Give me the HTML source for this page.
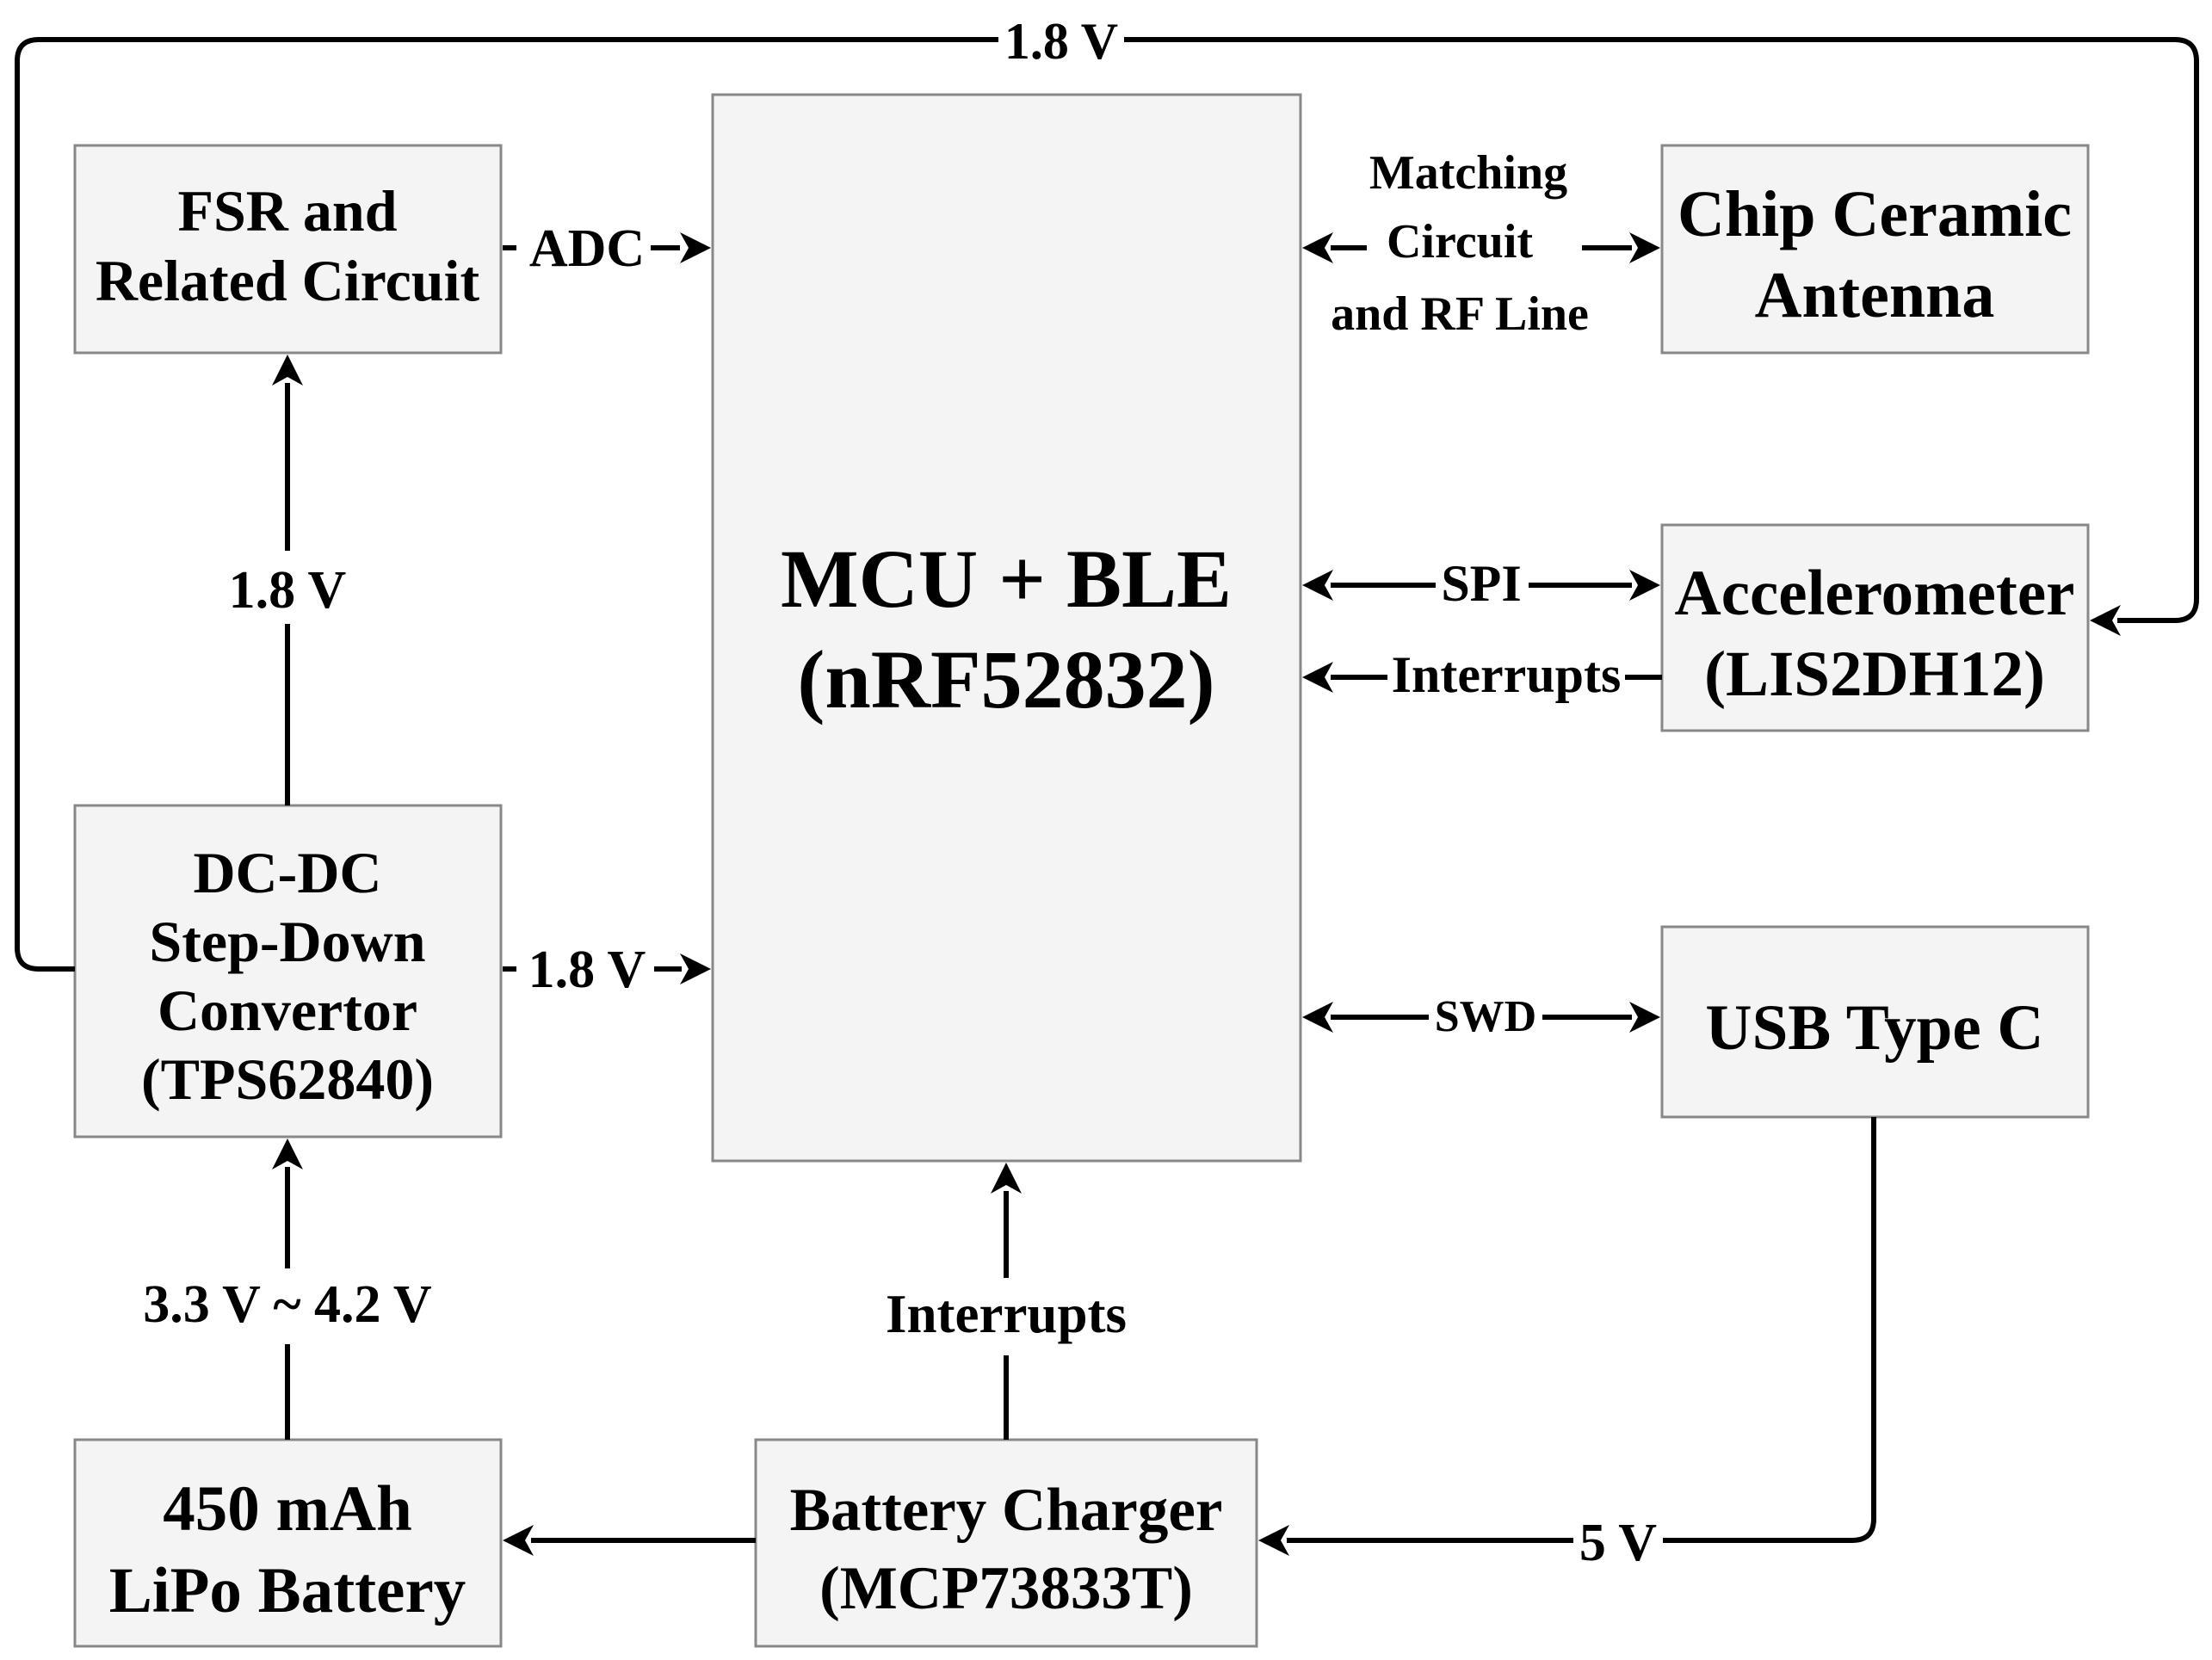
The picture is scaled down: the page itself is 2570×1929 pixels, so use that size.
<!DOCTYPE html>
<html><head><meta charset="utf-8"><style>html,body{margin:0;padding:0;background:#fff}svg{display:block}</style></head>
<body>
<svg width="2570" height="1929" viewBox="0 0 2570 1929" xmlns="http://www.w3.org/2000/svg" font-family="'Liberation Serif', serif" font-weight="bold">
<g fill="#f4f4f4" stroke="#888" stroke-width="3">
<rect x="87" y="169" width="495" height="241"/>
<rect x="828" y="110" width="683" height="1239"/>
<rect x="1931" y="169" width="495" height="241"/>
<rect x="1931" y="610" width="495" height="239"/>
<rect x="1931" y="1077" width="495" height="221"/>
<rect x="87" y="936" width="495" height="385"/>
<rect x="87" y="1673" width="495" height="240"/>
<rect x="878" y="1673" width="582" height="240"/>
</g>
<g fill="none" stroke="#000" stroke-width="6">
<path d="M87 1126 H45 Q20 1126 20 1101 V71 Q20 46 45 46 H1160"/>
<path d="M1306 46 H2527 Q2552 46 2552 71 V696 Q2552 721 2527 721 H2460"/>
<path d="M584 288 H600"/><path d="M756 288 H790"/>
<path d="M334 936 V725"/><path d="M334 640 V445"/>
<path d="M584 1126 H600"/><path d="M760 1126 H792"/>
<path d="M334 1673 V1562"/><path d="M334 1474 V1356"/>
<path d="M878 1790 H617"/>
<path d="M1169 1673 V1575"/><path d="M1169 1485 V1384"/>
<path d="M2177 1298 V1765 Q2177 1790 2152 1790 H1932"/><path d="M1828 1790 H1495"/>
<path d="M1546 288 H1588"/><path d="M1838 288 H1896"/>
<path d="M1546 680 H1668"/><path d="M1776 680 H1896"/>
<path d="M1546 787 H1612"/><path d="M1888 787 H1931"/>
<path d="M1546 1182 H1660"/><path d="M1792 1182 H1896"/>
</g>
<g fill="#000">
<polygon points="826,288 790,270 800,288 790,306"/>
<polygon points="334,412 316,448 334,438 352,448"/>
<polygon points="826,1126 790,1108 800,1126 790,1144"/>
<polygon points="334,1323 316,1359 334,1349 352,1359"/>
<polygon points="584,1790 620,1772 610,1790 620,1808"/>
<polygon points="1169,1351 1151,1387 1169,1377 1187,1387"/>
<polygon points="1462,1790 1498,1772 1488,1790 1498,1808"/>
<polygon points="2428,721 2464,703 2454,721 2464,739"/>
<polygon points="1513,288 1549,270 1539,288 1549,306"/>
<polygon points="1929,288 1893,270 1903,288 1893,306"/>
<polygon points="1513,680 1549,662 1539,680 1549,698"/>
<polygon points="1929,680 1893,662 1903,680 1893,698"/>
<polygon points="1513,787 1549,769 1539,787 1549,805"/>
<polygon points="1513,1182 1549,1164 1539,1182 1549,1200"/>
<polygon points="1929,1182 1893,1164 1903,1182 1893,1200"/>
</g>
<g text-anchor="middle" fill="#000">
<text x="334" y="268" font-size="68">FSR and</text>
<text x="334" y="349" font-size="68">Related Circuit</text>
<text x="1169" y="705" font-size="96">MCU + BLE</text>
<text x="1169" y="822" font-size="96">(nRF52832)</text>
<text x="2178" y="274" font-size="76">Chip Ceramic</text>
<text x="2178" y="368" font-size="76">Antenna</text>
<text x="2178" y="714" font-size="75">Accelerometer</text>
<text x="2178" y="808" font-size="75">(LIS2DH12)</text>
<text x="2178" y="1219" font-size="75">USB Type C</text>
<text x="334" y="1037" font-size="68">DC-DC</text>
<text x="334" y="1117" font-size="68">Step-Down</text>
<text x="334" y="1197" font-size="68">Convertor</text>
<text x="334" y="1277" font-size="68">(TPS62840)</text>
<text x="334" y="1778" font-size="75">450 mAh</text>
<text x="334" y="1873" font-size="75">LiPo Battery</text>
<text x="1169" y="1778" font-size="71">Battery Charger</text>
<text x="1169" y="1869" font-size="71">(MCP73833T)</text>

<text x="1233" y="68" font-size="60">1.8 V</text>
<text x="682" y="309" font-size="62">ADC</text>
<text x="334" y="706" font-size="62">1.8 V</text>
<text x="682" y="1147" font-size="62">1.8 V</text>
<text x="334" y="1536" font-size="62">3.3 V ~ 4.2 V</text>
<text x="1169" y="1548" font-size="63">Interrupts</text>
<text x="1880" y="1813" font-size="62">5 V</text>
<text x="1706" y="219" font-size="56">Matching</text>
<text x="1696" y="299" font-size="56">Circuit</text>
<text x="1696" y="383" font-size="56">and RF Line</text>
<text x="1721" y="698" font-size="60">SPI</text>
<text x="1750" y="804" font-size="60">Interrupts</text>
<text x="1726" y="1198" font-size="52">SWD</text>
</g>
</svg>
</body></html>
